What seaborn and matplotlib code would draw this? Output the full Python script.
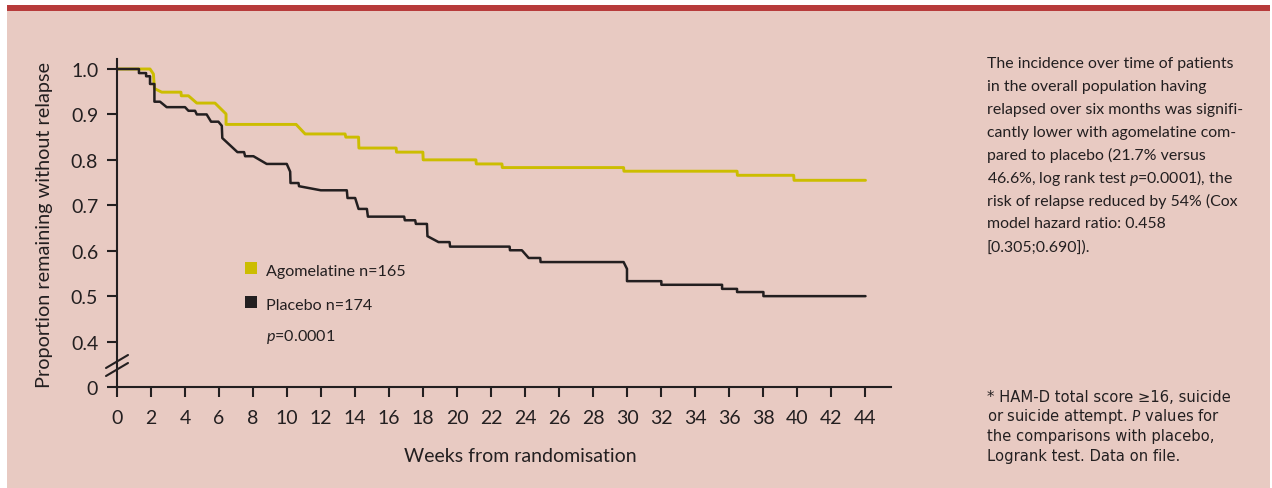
import matplotlib
matplotlib.use('Agg')
import matplotlib.pyplot as plt
from matplotlib.patches import Rectangle
from matplotlib.lines import Line2D
import seaborn as sns
import pandas as pd

# curve vertices (weeks, proportion without relapse)
weeks_ago = [0, 1.94, 2.14, 2.2, 2.63, 3.76, 3.78, 4.2, 4.69, 5.76, 6.41, 6.41,
             10.53, 11.06, 13.41, 13.45, 14.2, 14.22, 16.41, 16.43, 17.98, 18.0,
             21.1, 21.12, 22.63, 22.65, 29.78, 29.8, 36.45, 36.47, 39.78, 39.8, 44.0]
prop_ago = [1.0, 1.0, 0.989, 0.957, 0.949, 0.949, 0.941, 0.941, 0.925, 0.925, 0.901, 0.878,
            0.878, 0.857, 0.857, 0.850, 0.850, 0.826, 0.826, 0.817, 0.817, 0.800,
            0.800, 0.791, 0.791, 0.783, 0.783, 0.775, 0.775, 0.766, 0.766, 0.755, 0.755]

weeks_pla = [0, 1.29, 1.29, 1.71, 1.71, 1.94, 1.94, 2.2, 2.2, 2.53, 2.92, 4.0,
             4.2, 4.59, 4.69, 5.27, 5.53, 5.96, 6.16, 6.19, 7.08, 7.47, 7.53, 8.02,
             8.8, 9.98, 10.18, 10.2, 10.67, 10.7, 11.98, 13.51, 13.55, 14.0, 14.2, 14.69,
             14.75, 16.88, 16.92, 17.53, 17.57, 18.22, 18.25, 18.9, 19.55, 19.58, 23.08, 23.1,
             23.8, 24.2, 24.88, 24.9, 29.78, 29.98, 29.98, 32.0, 32.0, 35.57, 35.57, 36.45,
             36.45, 38.0, 38.0, 44.0]
prop_pla = [1.0, 1.0, 0.991, 0.991, 0.984, 0.984, 0.967, 0.967, 0.928, 0.928, 0.916, 0.916,
            0.908, 0.908, 0.900, 0.900, 0.884, 0.884, 0.875, 0.848, 0.817, 0.817, 0.808, 0.808,
            0.791, 0.791, 0.774, 0.749, 0.749, 0.742, 0.733, 0.733, 0.716, 0.716, 0.692, 0.692,
            0.675, 0.675, 0.667, 0.667, 0.659, 0.659, 0.632, 0.619, 0.619, 0.609, 0.609, 0.601,
            0.601, 0.584, 0.584, 0.575, 0.575, 0.560, 0.533, 0.533, 0.525, 0.525, 0.516, 0.516,
            0.509, 0.509, 0.500, 0.500]

x_ticks = list(range(0, 45, 2))
# broken axis: the "0" tick sits one step below 0.4
y_ticks = [0.3, 0.4, 0.5, 0.6, 0.7, 0.8, 0.9, 1.0]
y_tick_labels = ['0', '0.4', '0.5', '0.6', '0.7', '0.8', '0.9', '1.0']

series_labels = ['Agomelatine n=165', 'Placebo n=174']
series_colors = ['#CCBD00', '#231F20']
p_label = '$p$=0.0001'

summary_lines = [
    'The incidence over time of patients',
    'in the overall population having',
    'relapsed over six months was signifi-',
    'cantly lower with agomelatine com-',
    'pared to placebo (21.7% versus',
    '46.6%, log rank test $p$=0.0001), the',
    'risk of relapse reduced by 54% (Cox',
    'model hazard ratio: 0.458',
    '[0.305;0.690]).',
]
footnote_lines = [
    '* HAM-D total score \u226516, suicide',
    'or suicide attempt. $P$ values for',
    'the comparisons with placebo,',
    'Logrank test. Data on file.',
]

sns.set_style('ticks')
plt.rcParams['font.family'] = ['Lato', 'DejaVu Sans']
plt.rcParams['mathtext.fontset'] = 'custom'
plt.rcParams['mathtext.it'] = 'Lato:italic'
plt.rcParams['mathtext.rm'] = 'Lato'

W, H = 1272, 489
fig = plt.figure(figsize=(W / 100, H / 100), dpi=100)
fig.patch.set_facecolor('white')


def fx(px):
    return px / W


def fy(py):
    return 1 - py / H


# panel background and red top rule
fig.patches.append(Rectangle((fx(7), 0), fx(1270) - fx(7), fy(12), transform=fig.transFigure,
                             facecolor='#E8CAC2', edgecolor='none', zorder=-10))
fig.patches.append(Rectangle((fx(7), fy(12)), fx(1270) - fx(7), fy(6) - fy(12),
                             transform=fig.transFigure, facecolor='#B73B3B',
                             edgecolor='none', zorder=-10))

ax = fig.add_axes([fx(117), fy(388), fx(891) - fx(117), fy(60) - fy(388)])
ax.set_facecolor('none')

df_ago = pd.DataFrame({'week': weeks_ago, 'prop': prop_ago})
df_pla = pd.DataFrame({'week': weeks_pla, 'prop': prop_pla})
sns.lineplot(data=df_ago, x='week', y='prop', estimator=None, sort=False,
             color=series_colors[0], lw=2.1, ax=ax)
sns.lineplot(data=df_pla, x='week', y='prop', estimator=None, sort=False,
             color=series_colors[1], lw=1.8, ax=ax)

ax.set_xlim(0, 45.5)
ax.set_ylim(0.3, 1.022)
ax.set_xticks(x_ticks)
ax.set_yticks(y_ticks)
ax.set_yticklabels(y_tick_labels)
for s in ['top', 'right']:
    ax.spines[s].set_visible(False)
for s in ['left', 'bottom']:
    ax.spines[s].set_linewidth(1.5)
    ax.spines[s].set_color('#231F20')
ax.tick_params(axis='both', length=7.5, width=1.5, color='#231F20',
               labelsize=14, labelcolor='#231F20')
ax.tick_params(axis='y', pad=6)
ax.tick_params(axis='x', pad=8)
ax.set_xlabel('')
ax.set_ylabel('')

fig.text(fx(520), fy(457), 'Weeks from randomisation', ha='center', va='center',
         fontsize=14, color='#231F20')
fig.text(fx(45), fy(225), 'Proportion remaining without relapse', ha='center', va='center',
         rotation=90, fontsize=14.3, color='#231F20')

# axis break marks
for dy in (0, 8):
    fig.lines.append(Line2D([fx(106), fx(128)], [fy(369 + dy), fy(356 + dy)],
                            transform=fig.transFigure, color='#231F20', lw=1.5))

# legend
for i, (lab, col) in enumerate(zip(series_labels, series_colors)):
    top = 263 + i * 34
    fig.patches.append(Rectangle((fx(245), fy(top + 12)), fx(12), 12 / H,
                                 transform=fig.transFigure, facecolor=col, edgecolor='none'))
    fig.text(fx(266), fy(top + 9), lab, ha='left', va='center', fontsize=11.6, color='#231F20')
fig.text(fx(266), fy(337), p_label, ha='left', va='center', fontsize=11.6, color='#231F20')

# right-hand notes
for i, line in enumerate(summary_lines):
    fig.text(fx(987), fy(64 + i * 22.9), line, ha='left', va='center',
             fontsize=11.4, color='#231F20')
for i, line in enumerate(footnote_lines):
    fig.text(fx(987), fy(397 + i * 19.7), line, ha='left', va='center',
             fontsize=10.6, color='#231F20', family=['DejaVu Sans'])

fig.savefig('out.png', dpi=100, facecolor=fig.get_facecolor())
